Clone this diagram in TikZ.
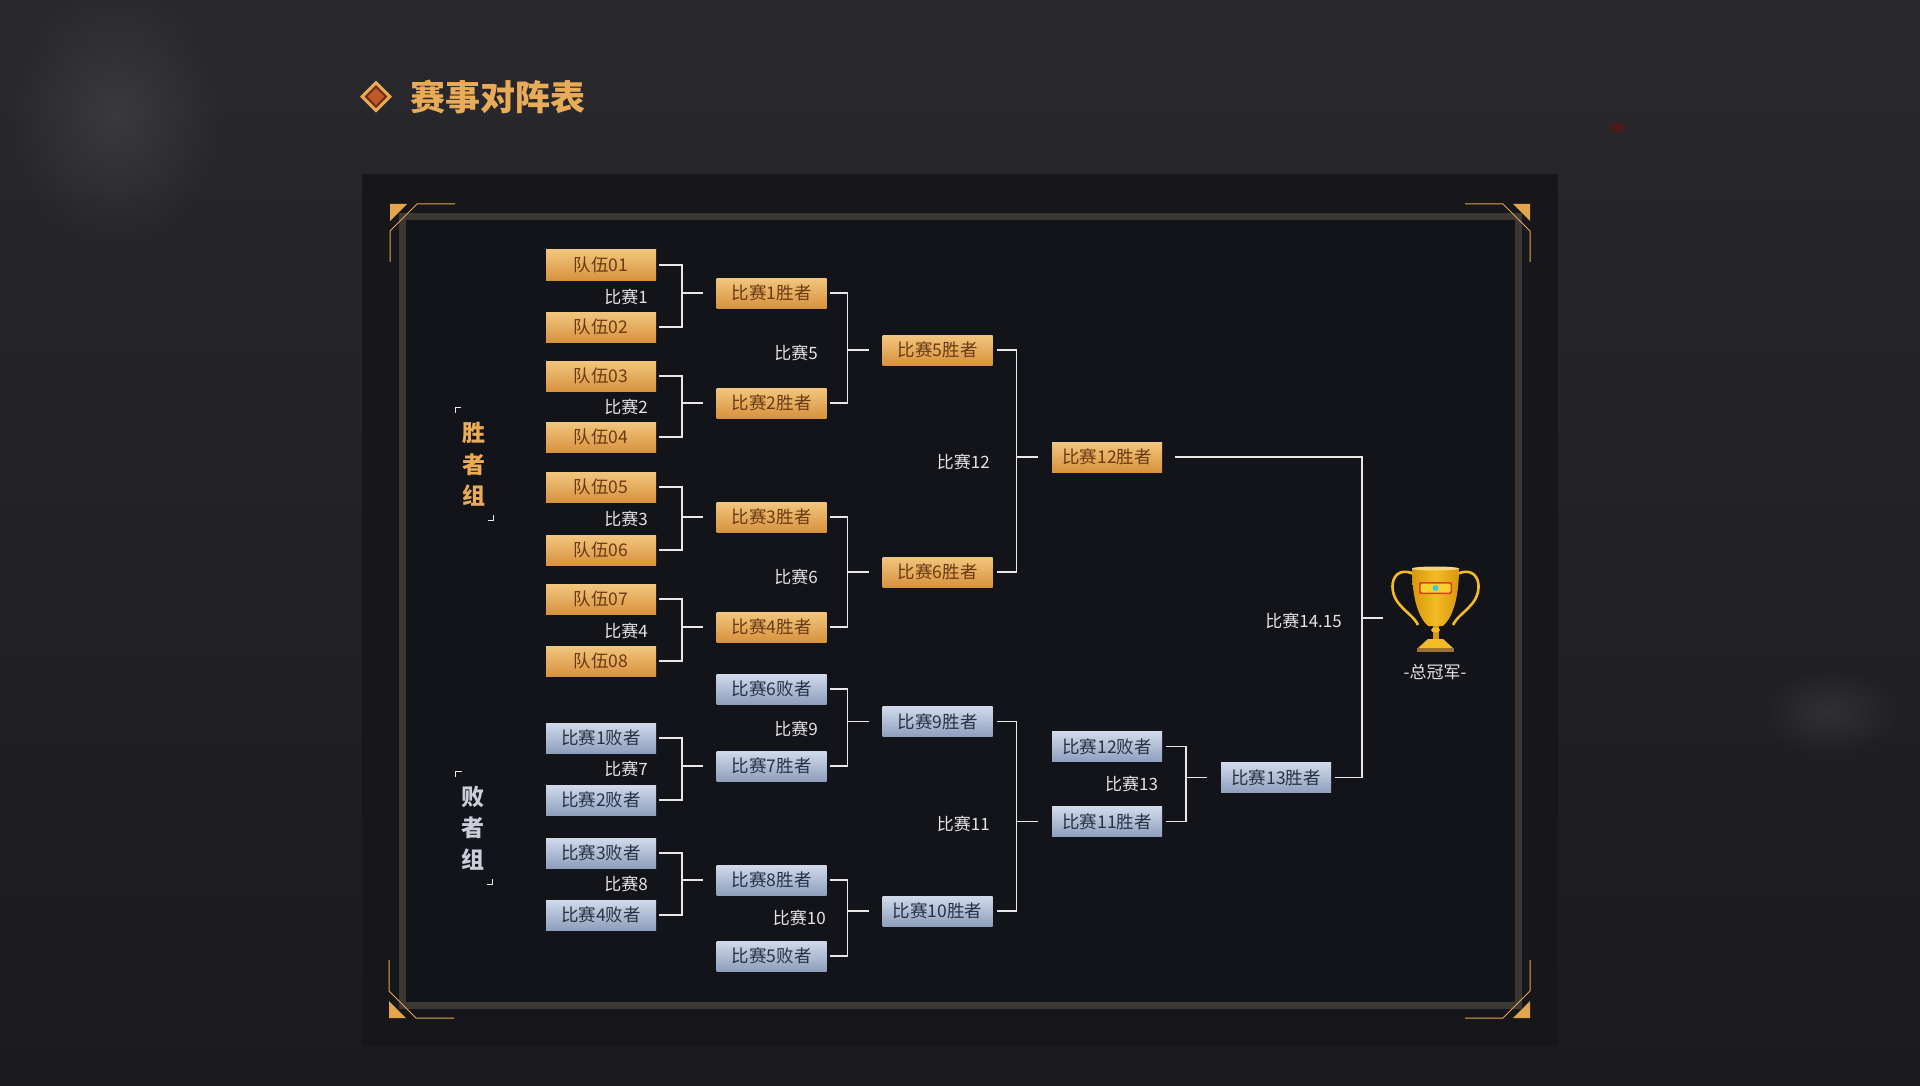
\documentclass[tikz,border=0pt]{standalone}
\usepackage{fontspec}
\setmainfont{Noto Sans CJK SC}
\usepackage{tikz}
\usetikzlibrary{fadings}
\definecolor{bgtop}{HTML}{29292D}
\definecolor{bgbot}{HTML}{1B1B1F}
\definecolor{smoke}{HTML}{4A4A4C}
\definecolor{panel}{HTML}{17171B}
\definecolor{inner}{HTML}{131419}
\definecolor{framegray}{HTML}{3B3834}
\definecolor{ornament}{HTML}{E3A54E}
\definecolor{goldtop}{HTML}{F2C67E}
\definecolor{goldbot}{HTML}{D8923E}
\definecolor{goldtext}{HTML}{6A3A12}
\definecolor{bluetop}{HTML}{D0DAEA}
\definecolor{bluebot}{HTML}{8E9FBD}
\definecolor{bluetext}{HTML}{283246}
\definecolor{labelgray}{HTML}{E4E4E4}
\definecolor{linegray}{HTML}{E8E8E8}
\definecolor{titlegold}{HTML}{E9AB58}
\definecolor{silver}{HTML}{C9CED8}
\definecolor{diadark}{HTML}{6B2A12}
\definecolor{diared}{HTML}{C0582A}
\definecolor{cupgold}{HTML}{F4BC24}
\definecolor{cupdark}{HTML}{D8960E}
\definecolor{basebrown}{HTML}{A07030}
\definecolor{logored}{HTML}{D8401A}
\definecolor{logoyellow}{HTML}{F9D030}
\definecolor{logocyan}{HTML}{3CC8E0}
\tikzfading[name=softspot,inner color=transparent!0,outer color=transparent!100]
\newcommand\boxfont{\fontsize{17.5pt}{17.5pt}\selectfont}
\newcommand\gamefont{\fontsize{17pt}{17pt}\selectfont}
% bracket: top node, bottom node, next node, gap, vertical offset
\newcommand\pairline[5]{%
  \draw[link] ([xshift=#4]#1.east) -- ([xshift=#5]#1.east) |- ([xshift=#4]#2.east);
  \draw[link] ([xshift=-14pt]#3.west) -| ([xshift=#5]#1.east);}

\begin{document}
\begin{tikzpicture}[x=1pt,y=-1pt,
    tbox/.style={minimum width=110pt,minimum height=30pt,inner sep=0pt,font=\boxfont},
    winbox/.style={tbox,top color=goldtop,bottom color=goldbot,text=goldtext},
    losebox/.style={tbox,top color=bluetop,bottom color=bluebot,text=bluetext},
    game/.style={anchor=east,inner sep=0pt,text=labelgray,font=\gamefont},
    group/.style={align=center,inner sep=0pt,font=\fontsize{23pt}{31.5pt}\selectfont\bfseries},
    tick/.style={draw=labelgray!80,line width=1pt},
    link/.style={draw=linegray,line width=1.3pt}]
  \useasboundingbox (0,0) rectangle (1920,1086);
  \fill[top color=bgtop,bottom color=bgbot] (0,0) rectangle (1920,1086);
  \fill[smoke,fill opacity=.55,path fading=softspot] (115,115) ellipse (110 and 130);
  \fill[smoke,fill opacity=.4,path fading=softspot] (1830,712) ellipse (70 and 45);
  \fill[red!60!black,fill opacity=.5,path fading=softspot] (1617,127) ellipse (12 and 7);
  \fill[panel] (362,174) rectangle (1558,1047);
  \draw[framegray,line width=6.5pt,fill=inner] (402.5,216.5) rectangle (1518.5,1005.5);
  \foreach \cx/\cy/\sx/\sy in {390/204/1/1,1530/204/-1/1,389/1018/1/-1,1530/1018/-1/-1}{
    \begin{scope}[shift={(\cx,\cy)},xscale=\sx,yscale=\sy]
      \fill[ornament] (0,0) -- (17,0) -- (0,17) -- cycle;
      \draw[ornament,line width=1pt] (65,0) -- (27,0) -- (0,27) -- (0,58);
    \end{scope}}

  % title
  \fill[titlegold] (376,80.7) -- ++(16,16) -- ++(-16,16) -- ++(-16,-16) -- cycle;
  \fill[diadark] (376,85.2) -- ++(11.5,11.5) -- ++(-11.5,11.5) -- ++(-11.5,-11.5) -- cycle;
  \fill[diared] (376,88.2) -- ++(8.5,8.5) -- ++(-8.5,8.5) -- ++(-8.5,-8.5) -- cycle;
  \node[anchor=west,inner sep=0pt,text=titlegold,font=\fontsize{35pt}{35pt}\selectfont\bfseries] (title) at (410,97) {赛事对阵表};

  \node[group,text=titlegold] (wingroup) at (473.8,464.5) {胜\\者\\组};
  \draw[tick] (461,407.5) -| (455.2,413);
  \draw[tick] (488,520.7) -| (493,515);
  \node[group,text=silver] (losegroup) at (472.7,828) {败\\者\\组};
  \draw[tick] (461.5,771) -| (455,777);
  \draw[tick] (487,884) -| (492.7,878.5);

  % winners bracket
  \node[winbox] (t1) at (601,265) {队伍01};
  \node[winbox] (t2) at (601,327) {队伍02};
  \node[winbox] (t3) at (601,376) {队伍03};
  \node[winbox] (t4) at (601,437) {队伍04};
  \node[winbox] (t5) at (601,487) {队伍05};
  \node[winbox] (t6) at (601,550) {队伍06};
  \node[winbox] (t7) at (601,599) {队伍07};
  \node[winbox] (t8) at (601,661) {队伍08};
  \node[winbox] (w1) at (771.7,293) {比赛1胜者};
  \node[winbox] (w2) at (771.7,403) {比赛2胜者};
  \node[winbox] (w3) at (771.7,517) {比赛3胜者};
  \node[winbox] (w4) at (771.7,627) {比赛4胜者};
  \node[winbox] (w5) at (937.7,350) {比赛5胜者};
  \node[winbox] (w6) at (937.7,572) {比赛6胜者};
  \node[winbox] (w12) at (1107,457) {比赛12胜者};

  % losers bracket
  \node[losebox] (l1) at (601,738) {比赛1败者};
  \node[losebox] (l2) at (601,800) {比赛2败者};
  \node[losebox] (l3) at (601,853) {比赛3败者};
  \node[losebox] (l4) at (601,915) {比赛4败者};
  \node[losebox] (l6) at (771.7,689) {比赛6败者};
  \node[losebox] (w7) at (771.7,766) {比赛7胜者};
  \node[losebox] (w8) at (771.7,880) {比赛8胜者};
  \node[losebox] (l5) at (771.7,956) {比赛5败者};
  \node[losebox] (w9) at (937.7,721.7) {比赛9胜者};
  \node[losebox] (w10) at (937.7,911) {比赛10胜者};
  \node[losebox] (l12) at (1107,746.7) {比赛12败者};
  \node[losebox] (w11) at (1107,821.7) {比赛11胜者};
  \node[losebox] (w13) at (1276,777.7) {比赛13胜者};

  \node[game] (g1) at (648,296.7) {比赛1};
  \node[game] (g2) at (648,406.5) {比赛2};
  \node[game] (g3) at (648,519) {比赛3};
  \node[game] (g4) at (648,631) {比赛4};
  \node[game] (g5) at (818,353) {比赛5};
  \node[game] (g6) at (818,577) {比赛6};
  \node[game] (g7) at (648,769) {比赛7};
  \node[game] (g8) at (648,884) {比赛8};
  \node[game] (g9) at (818,728.5) {比赛9};
  \node[game] (g10) at (826,918) {比赛10};
  \node[game] (g11) at (990,824) {比赛11};
  \node[game] (g12) at (990,461.7) {比赛12};
  \node[game] (g13) at (1158.3,784) {比赛13};
  \node[game] (g14) at (1342,621) {比赛14.15};

  \pairline{t1}{t2}{w1}{3pt}{25.7pt}
  \pairline{t3}{t4}{w2}{3pt}{25.7pt}
  \pairline{t5}{t6}{w3}{3pt}{25.7pt}
  \pairline{t7}{t8}{w4}{3pt}{25.7pt}
  \pairline{w1}{w2}{w5}{3.3pt}{20.6pt}
  \pairline{w3}{w4}{w6}{3.3pt}{20.6pt}
  \pairline{w5}{w6}{w12}{4pt}{23.5pt}
  \pairline{l1}{l2}{w7}{3pt}{25.7pt}
  \pairline{l3}{l4}{w8}{3pt}{25.7pt}
  \pairline{l6}{w7}{w9}{3.3pt}{20.6pt}
  \pairline{w8}{l5}{w10}{3.3pt}{20.6pt}
  \pairline{w9}{w10}{w11}{4pt}{23.5pt}
  \pairline{l12}{w11}{w13}{3.3pt}{23.7pt}

  % final
  \coordinate (cup) at (1383,618);
  \draw[link] ([xshift=13pt]w12.east) -- ([xshift=199.7pt]w12.east) |- ([xshift=4pt]w13.east);
  \draw[link] (cup) -| ([xshift=199.7pt]w12.east);

  % trophy
  \draw[cupgold,line width=2.6pt] (1414,574) .. controls (1392,564) and (1386,590) .. (1400,605) .. controls (1408,614) and (1414,617) .. (1418,625);
  \draw[cupgold,line width=2.6pt] (1457,574) .. controls (1479,564) and (1485,590) .. (1471,605) .. controls (1463,614) and (1457,617) .. (1453,625);
  \fill[left color=cupdark,right color=cupdark,middle color=cupgold] (1412,568) -- (1459,568) .. controls (1459,600) and (1452,618) .. (1443,626) -- (1428,626) .. controls (1419,618) and (1412,600) .. (1412,568) -- cycle;
  \fill[cupgold!60!white] (1435.5,568.5) ellipse (23.5 and 2);
  \fill[cupdark] (1432.5,626) rectangle (1438.5,640);
  \fill[cupgold] (1435.5,630) ellipse (4.5 and 2.5);
  \fill[cupgold] (1428,639) -- (1443,639) -- (1453,648) -- (1418,648) -- cycle;
  \fill[basebrown] (1417,648) rectangle (1454,652);
  \fill[logored,rounded corners=2pt] (1419,582) rectangle (1452,594);
  \fill[logoyellow,rounded corners=1.5pt] (1420.5,583.5) rectangle (1450.5,592.5);
  \fill[logocyan] (1435.5,588) circle (3);
  \node[text=labelgray,font=\gamefont,inner sep=0pt] (champ) at (1435,672) {-总冠军-};
\end{tikzpicture}
\end{document}
